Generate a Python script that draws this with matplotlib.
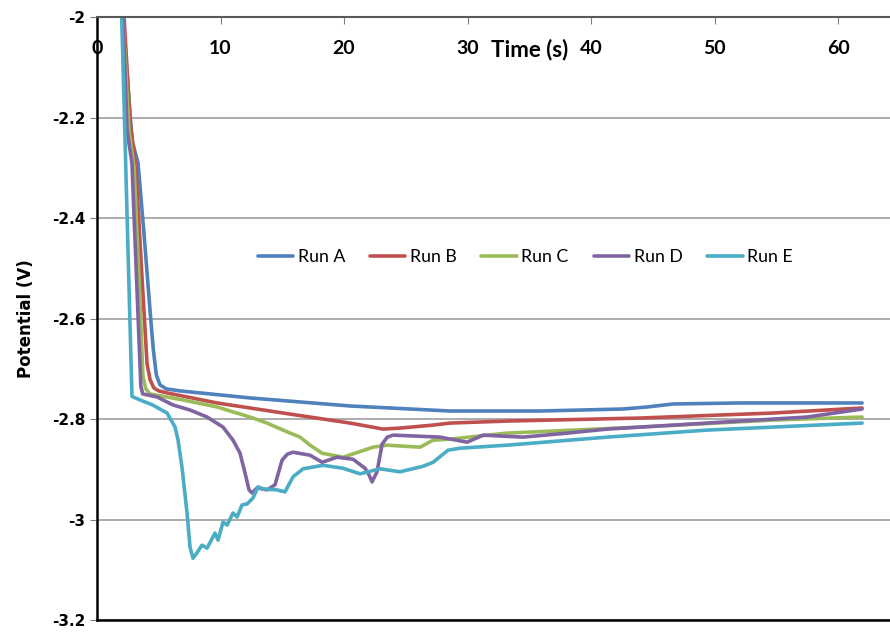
import numpy as np
import matplotlib
matplotlib.use('Agg')
import matplotlib.pyplot as plt

# data (time s, potential V)
run_a_t = [1.9, 2.1, 2.83, 3.32, 3.8, 4.29, 4.55, 4.80, 5.1, 5.6, 6.72, 12.39, 20.49, 28.58, 35.87, 42.59, 44.53, 46.64, 52.06, 61.94]
run_a_v = [-1.9, -2.0, -2.245, -2.29, -2.43, -2.583, -2.66, -2.712, -2.732, -2.740, -2.744, -2.758, -2.774, -2.784, -2.784, -2.780, -2.776, -2.770, -2.768, -2.768]

run_b_t = [2.0, 2.19, 2.67, 3.16, 3.6, 4.05, 4.3, 4.6, 5.0, 5.67, 9.72, 15.06, 20.49, 23.16, 24.53, 27.21, 28.58, 33.2, 43.97, 54.74, 61.94]
run_b_v = [-1.9, -2.0, -2.205, -2.304, -2.50, -2.690, -2.722, -2.738, -2.744, -2.748, -2.768, -2.788, -2.808, -2.820, -2.818, -2.812, -2.808, -2.804, -2.798, -2.788, -2.778]

run_c_t = [1.9, 2.1, 2.59, 3.0, 3.4, 3.72, 3.95, 4.29, 6.96, 9.72, 12.39, 13.77, 15.06, 16.44, 17.25, 18.22, 19.92, 22.35, 23.48, 26.15, 27.21, 28.58, 33.2, 43.97, 54.74, 61.94]
run_c_v = [-1.9, -2.0, -2.225, -2.299, -2.52, -2.715, -2.740, -2.750, -2.762, -2.776, -2.796, -2.808, -2.822, -2.836, -2.852, -2.868, -2.876, -2.856, -2.852, -2.856, -2.842, -2.840, -2.828, -2.816, -2.802, -2.796]

run_d_t = [1.9, 2.1, 2.43, 2.83, 3.2, 3.55, 3.7, 4.86, 6.15, 7.53, 8.91, 10.2, 11.01, 11.58, 11.98, 12.31, 12.55, 12.96, 13.77, 14.41, 14.98, 15.4, 15.87, 17.25, 18.22,
           19.43, 20.73, 21.70, 22.0, 22.27, 22.67, 23.08, 23.5, 23.97, 25.91, 27.77, 29.96, 31.26, 34.49, 38.06, 41.30, 49.39, 57.49, 61.94]
run_d_v = [-1.9, -2.0, -2.225, -2.291, -2.52, -2.735, -2.750, -2.756, -2.772, -2.782, -2.796, -2.816, -2.842, -2.868, -2.907, -2.941, -2.947, -2.937, -2.941, -2.931, -2.882, -2.870, -2.866, -2.872, -2.886,
           -2.876, -2.880, -2.898, -2.910, -2.925, -2.905, -2.850, -2.836, -2.832, -2.834, -2.836, -2.846, -2.832, -2.836, -2.828, -2.820, -2.808, -2.796, -2.780]

run_e_t = [1.9, 2.0, 2.55, 2.83, 3.48, 4.5, 5.67, 6.32, 6.56, 6.88, 7.29, 7.53, 7.77, 8.1, 8.50, 8.91, 9.55, 9.80, 10.20, 10.53, 11.01, 11.34, 11.74, 12.15, 12.63, 13.04,
           13.44, 14.57, 15.22, 15.87, 16.68, 18.30, 19.92, 21.30, 22.91, 24.53, 26.40, 27.21, 28.42, 29.39, 33.20, 41.30, 49.39, 54.74, 61.94]
run_e_v = [-1.9, -2.0, -2.50, -2.755, -2.762, -2.772, -2.788, -2.816, -2.842, -2.896, -2.987, -3.055, -3.077, -3.066, -3.051, -3.057, -3.027, -3.041, -3.005, -3.011, -2.987, -2.995, -2.971, -2.969, -2.957, -2.935,
           -2.939, -2.941, -2.945, -2.915, -2.899, -2.892, -2.898, -2.909, -2.899, -2.905, -2.894, -2.886, -2.862, -2.858, -2.852, -2.836, -2.822, -2.816, -2.808]

labels = ['Run A', 'Run B', 'Run C', 'Run D', 'Run E']
colors = ['#4F81BD', '#C0504D', '#9BBB59', '#8064A2', '#4BACC6']
yticks = [-2, -2.2, -2.4, -2.6, -2.8, -3, -3.2]
xticks = [0, 10, 20, 30, 40, 50, 60]

fig = plt.figure(figsize=(8.9, 6.33), dpi=100)
ax = fig.add_axes([0.109, 0.0205, 0.891, 0.9525])

series = [(run_a_t, run_a_v), (run_b_t, run_b_v), (run_c_t, run_c_v), (run_d_t, run_d_v), (run_e_t, run_e_v)]
for (t, v), lab, c in zip(series, labels, colors):
    ax.plot(t, v, color=c, lw=2.6, label=lab, solid_capstyle='round', solid_joinstyle='round')

ax.set_xlim(0, 64.2)
ax.set_ylim(-3.2, -2)
ax.set_yticks(yticks)
ax.set_yticklabels([f'{y:g}' for y in yticks], fontsize=11, fontweight='bold', family='DejaVu Sans')
ax.set_xticks(xticks)
ax.set_xticklabels([str(x) for x in xticks], fontsize=14, fontweight='bold', family='Lato')
ax.xaxis.set_ticks_position('top')
ax.tick_params(axis='x', direction='in', length=5, pad=-29, color='#808080')
ax.tick_params(axis='y', direction='out', length=5, color='#808080')

ax.grid(axis='y', color='#A6A6A6', lw=1.3)
ax.set_axisbelow(True)
for s in ['left', 'bottom']:
    ax.spines[s].set_color('black')
    ax.spines[s].set_linewidth(1.8)
ax.spines['top'].set_color('#595959')
ax.spines['top'].set_linewidth(1.5)
ax.spines['right'].set_visible(False)

ax.text(0.546, 0.947, 'Time (s)', transform=ax.transAxes, ha='center', va='center',
        fontsize=16, fontweight='bold', family='Lato')
ax.set_ylabel('Potential (V)', fontsize=12, fontweight='bold', family='DejaVu Sans', labelpad=12)

leg = ax.legend(loc='center', bbox_to_anchor=(0.54, 0.602), ncol=5, frameon=False,
                prop={'family': 'Lato', 'size': 12.8}, handlelength=2.0, handletextpad=0.25, columnspacing=1.4)

fig.savefig('out.png', dpi=100)
